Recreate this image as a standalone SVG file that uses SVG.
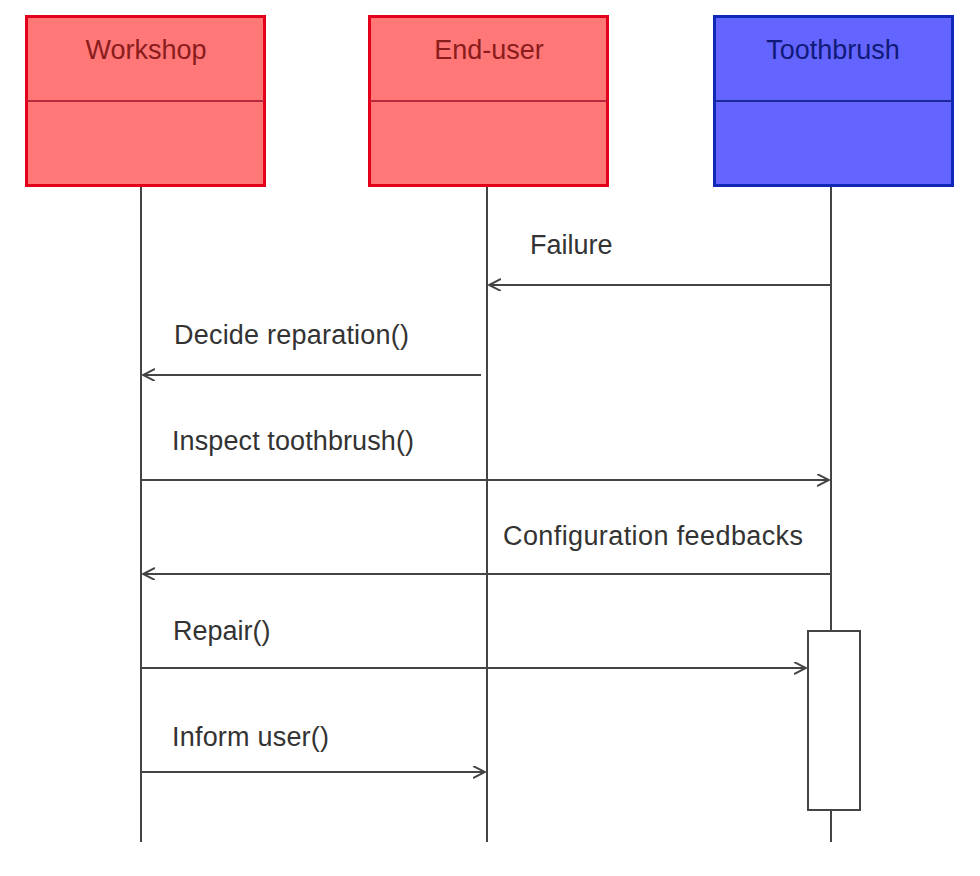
<svg xmlns="http://www.w3.org/2000/svg" width="980" height="876" viewBox="0 0 980 876">
<style>
.hdr{stroke-width:3}
.red rect{fill:#ff7777;stroke:#e4001a}
.red line{stroke:#b8283a;stroke-width:2}
.red text{fill:#8a1c1c}
.blue rect{fill:#6464fe;stroke:#1028b8}
.blue line{stroke:#1a2a9a;stroke-width:2}
.blue text{fill:#101a78}
.t{font-family:"Liberation Sans",Arial,sans-serif;font-size:27px;text-anchor:middle}
.m{font-family:"Liberation Sans",Arial,sans-serif;font-size:27px;fill:#333}
.life{stroke:#444;stroke-width:2}
.msg{stroke:#444;stroke-width:2;fill:none;marker-end:url(#arr)}
</style>
<defs>
<marker id="arr" markerWidth="14" markerHeight="14" refX="12" refY="6" orient="auto" markerUnits="userSpaceOnUse">
<path d="M0,0 L12,6 L0,12" fill="none" stroke="#444" stroke-width="2"/>
</marker>
</defs>
<g id="lifelines">
<line class="life" x1="141" y1="186" x2="141" y2="842"/>
<line class="life" x1="487" y1="186" x2="487" y2="842"/>
<line class="life" x1="831" y1="186" x2="831" y2="842"/>
</g>
<g id="workshop" class="red">
<rect class="hdr" x="26.5" y="16.5" width="238" height="169"/>
<line x1="27" y1="101" x2="264" y2="101"/>
<text class="t" x="146" y="59">Workshop</text>
</g>
<g id="end-user" class="red">
<rect class="hdr" x="369.5" y="16.5" width="238" height="169"/>
<line x1="370" y1="101" x2="607" y2="101"/>
<text class="t" x="489" y="59">End-user</text>
</g>
<g id="toothbrush" class="blue">
<rect class="hdr" x="714.5" y="16.5" width="238" height="169"/>
<line x1="715" y1="101" x2="952" y2="101"/>
<text class="t" x="833" y="59">Toothbrush</text>
</g>
<g id="activation">
<rect x="808" y="631" width="52" height="179" fill="#fff" stroke="#444" stroke-width="2"/>
</g>
<g id="connectors">
<line class="msg" x1="831" y1="285" x2="489" y2="285"/>
<line class="msg" x1="481" y1="375" x2="143" y2="375"/>
<line class="msg" x1="141" y1="480" x2="829" y2="480"/>
<line class="msg" x1="831" y1="574" x2="143" y2="574"/>
<line class="msg" x1="141" y1="668" x2="806" y2="668"/>
<line class="msg" x1="141" y1="772" x2="485" y2="772"/>
</g>
<g id="labels">
<text class="m" x="530" y="254">Failure</text>
<text class="m" x="174" y="344" textLength="235">Decide reparation()</text>
<text class="m" x="172" y="450" textLength="242">Inspect toothbrush()</text>
<text class="m" x="503" y="545" textLength="300">Configuration feedbacks</text>
<text class="m" x="173" y="640">Repair()</text>
<text class="m" x="172" y="746" textLength="157">Inform user()</text>
</g>
</svg>
